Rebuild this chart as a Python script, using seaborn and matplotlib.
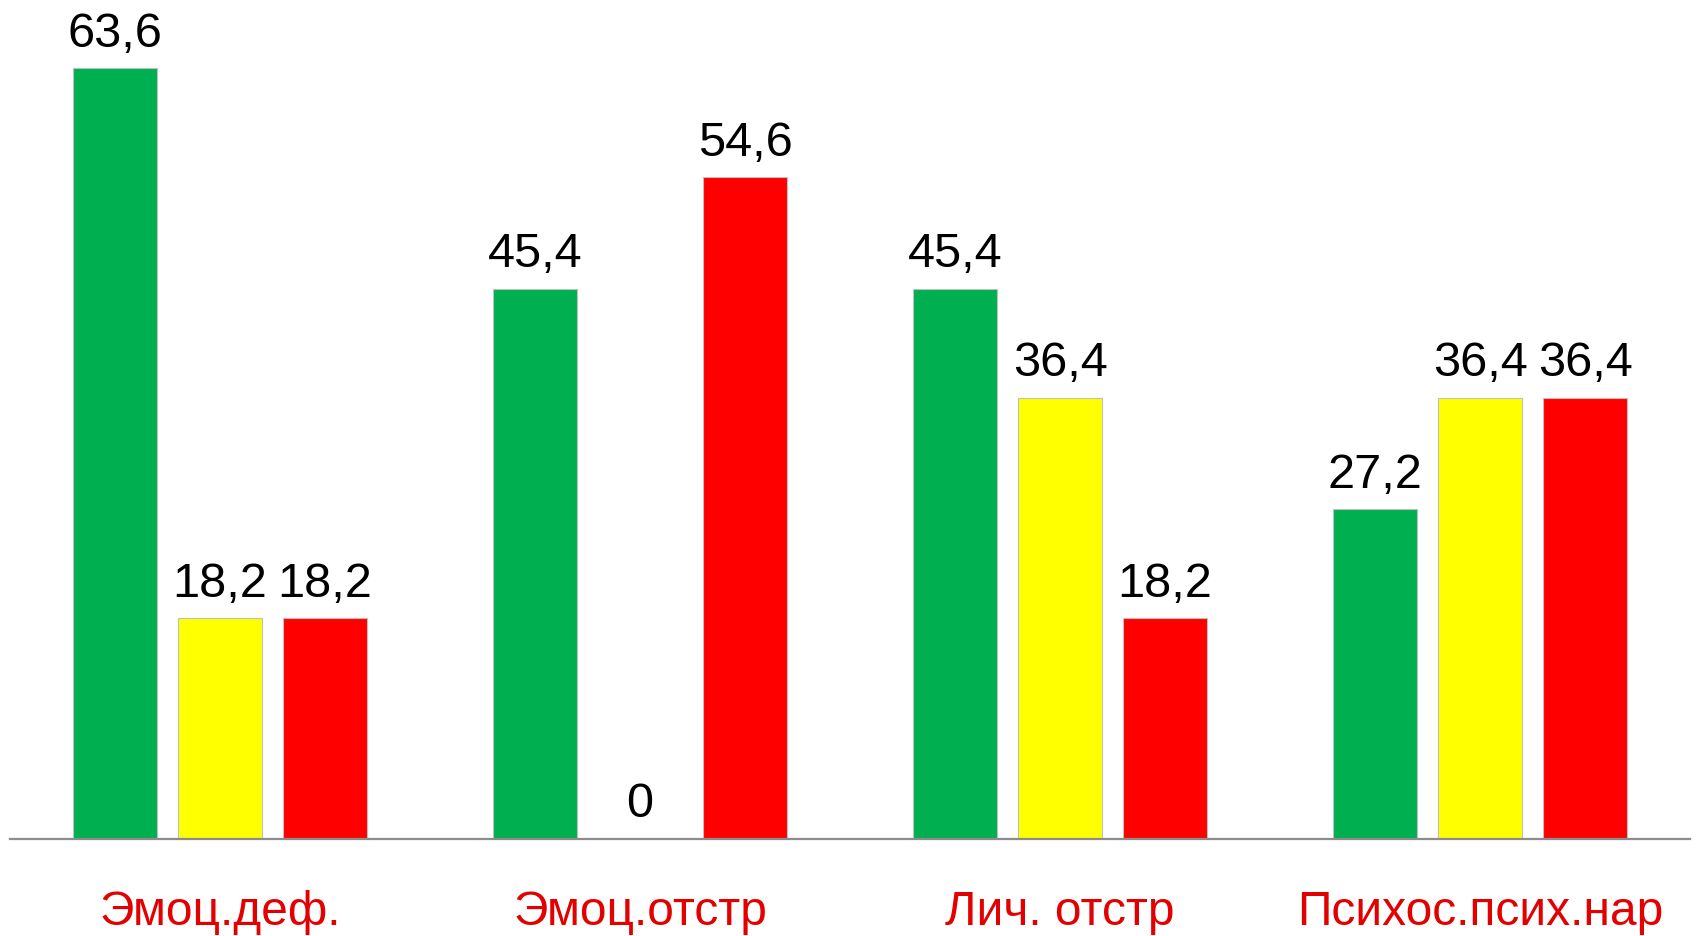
import matplotlib
matplotlib.use("Agg")
import matplotlib.pyplot as plt
import seaborn as sns
import pandas as pd

# Categories and the three level series (percent)
categories = ["Эмоц.деф.", "Эмоц.отстр", "Лич. отстр", "Психос.псих.нар"]
levels = ["высокий", "средний", "низкий"]
high = [63.6, 45.4, 45.4, 27.2]
medium = [18.2, 0.0, 36.4, 36.4]
low = [18.2, 54.6, 18.2, 36.4]
colors = ["#00B050", "#FFFF00", "#FF0000"]

df = pd.DataFrame({
    "category": categories * 3,
    "level": [levels[0]] * 4 + [levels[1]] * 4 + [levels[2]] * 4,
    "value": high + medium + low,
})

sns.set_theme(style="white")
plt.rcParams["font.family"] = ["Liberation Sans", "DejaVu Sans"]

fig = plt.figure(figsize=(16.96, 9.37), dpi=100)
ax = fig.add_axes([10 / 1696, 97 / 937, 1680 / 1696, 840 / 937])

sns.barplot(
    data=df, x="category", y="value", hue="level",
    order=categories, hue_order=levels, palette=colors,
    width=0.75, gap=0.2, dodge=True, legend=False,
    edgecolor="#bfbfbf", linewidth=0.8, ax=ax, saturation=1,
)

for container in ax.containers:
    vals = [b.get_height() for b in container]
    labels = [f"{v:g}".replace(".", ",") for v in vals]
    ax.bar_label(container, labels=labels, padding=9, fontsize=35, color="black")

ax.set_xlim(-0.5, 3.5)
ax.set_ylim(0, 69.3)
ax.set_xlabel("")
ax.set_ylabel("")
ax.set_yticks([])
ax.tick_params(axis="x", length=0, pad=36, labelsize=34.5, labelcolor="#E30000")
for side in ["top", "right", "left"]:
    ax.spines[side].set_visible(False)
ax.spines["bottom"].set_color("#8c8c8c")
ax.spines["bottom"].set_linewidth(1.6)

fig.savefig("out.png", dpi=100, facecolor="white")
